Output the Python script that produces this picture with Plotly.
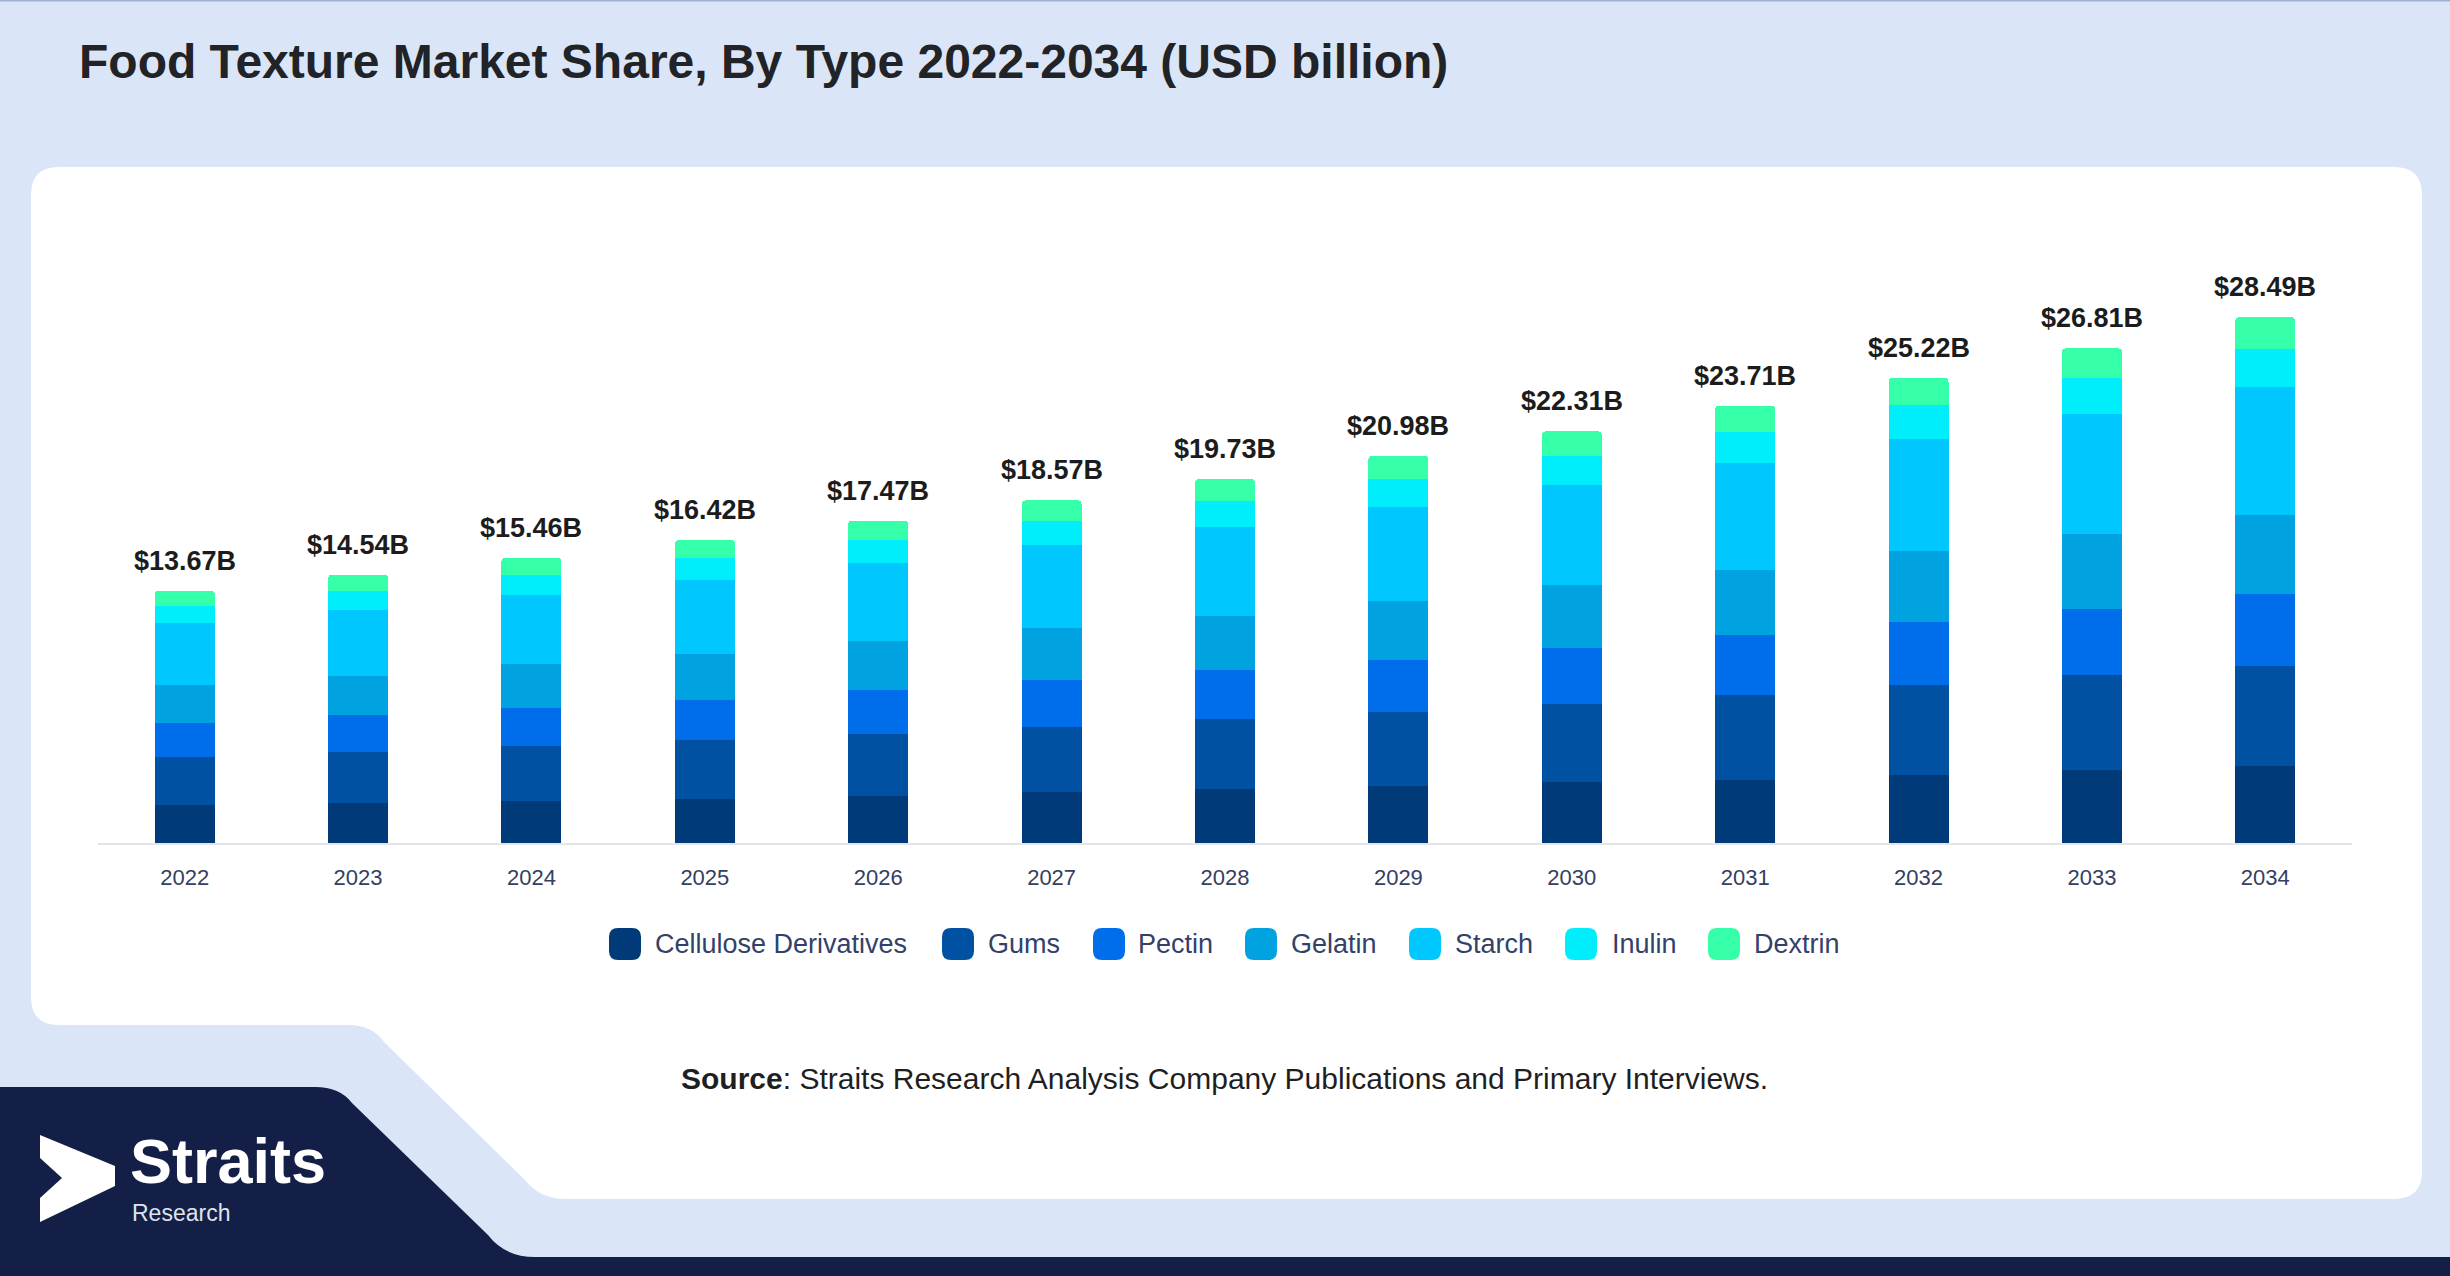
import plotly.graph_objects as go

years = ["2022", "2023", "2024", "2025", "2026", "2027", "2028",
         "2029", "2030", "2031", "2032", "2033", "2034"]
totals = [13.67, 14.54, 15.46, 16.42, 17.47, 18.57, 19.73,
          20.98, 22.31, 23.71, 25.22, 26.81, 28.49]

cellulose = [2.08, 2.17, 2.26, 2.40, 2.57, 2.75, 2.90, 3.07, 3.29, 3.44, 3.71, 3.94, 4.17]
gums = [2.57, 2.76, 2.98, 3.20, 3.35, 3.55, 3.80, 4.03, 4.27, 4.58, 4.84, 5.14, 5.45]
pectin = [1.87, 1.99, 2.08, 2.17, 2.37, 2.52, 2.68, 2.84, 3.02, 3.26, 3.41, 3.60, 3.85]
gelatin = [2.06, 2.11, 2.39, 2.50, 2.66, 2.83, 2.93, 3.17, 3.38, 3.53, 3.84, 4.06, 4.32]
starch = [3.34, 3.58, 3.73, 3.97, 4.20, 4.48, 4.83, 5.10, 5.44, 5.77, 6.12, 6.51, 6.92]
inulin = [0.94, 1.03, 1.08, 1.19, 1.27, 1.32, 1.38, 1.50, 1.59, 1.72, 1.81, 1.94, 2.09]
dextrin = [0.81, 0.90, 0.94, 0.99, 1.05, 1.12, 1.21, 1.27, 1.32, 1.41, 1.49, 1.62, 1.69]

series_names = ["Cellulose Derivatives", "Gums", "Pectin", "Gelatin", "Starch", "Inulin", "Dextrin"]
series_values = [cellulose, gums, pectin, gelatin, starch, inulin, dextrin]
colors = ["#013a78", "#0051a2", "#006deb", "#00a3e0", "#00c8ff", "#00eefc", "#36ffaa"]

FONT = "Liberation Sans, Arial, sans-serif"
W, H = 2450, 1276
PL, PR, PT, PB = 98, 2352, 271, 843   # plot area in pixels


def fx(px):
    return (px - PL) / (PR - PL)


def fy(py):
    return (PB - py) / (PB - PT)


def path(cmds):
    # cmds: list of (letter, x, y, ...) in pixels -> paper-coordinate path
    out = []
    for c in cmds:
        letter, pts = c[0], c[1:]
        coords = []
        for i in range(0, len(pts), 2):
            coords.append(f"{fx(pts[i]):.5f},{fy(pts[i + 1]):.5f}")
        out.append(letter + " ".join(coords))
    return " ".join(out) + " Z"


def rrect(x0, y0, x1, y1, r):
    return path([("M", x0 + r, y0), ("L", x1 - r, y0), ("Q", x1, y0, x1, y0 + r),
                 ("L", x1, y1 - r), ("Q", x1, y1, x1 - r, y1), ("L", x0 + r, y1),
                 ("Q", x0, y1, x0, y1 - r), ("L", x0, y0 + r), ("Q", x0, y0, x0 + r, y0)])


fig = go.Figure()
for name, vals, col in zip(series_names, series_values, colors):
    fig.add_trace(go.Bar(x=years, y=vals, name=name, marker_color=col,
                         marker_line_width=0, showlegend=False))

shapes = []
# white panel with the cut-out at the bottom left
r = 28
shapes.append(dict(type="path", xref="paper", yref="paper", layer="below",
                   fillcolor="white", line_width=0,
                   path=path([("M", 31 + r, 167), ("L", 2422 - r, 167), ("Q", 2422, 167, 2422, 167 + r),
                              ("L", 2422, 1199 - r), ("Q", 2422, 1199, 2422 - r, 1199),
                              ("L", 565, 1199), ("Q", 540, 1199, 525, 1180),
                              ("L", 385, 1043), ("Q", 372, 1025, 350, 1025),
                              ("L", 31 + r, 1025), ("Q", 31, 1025, 31, 1025 - r),
                              ("L", 31, 167 + r), ("Q", 31, 167, 31 + r, 167)])))
# navy footer shape
shapes.append(dict(type="path", xref="paper", yref="paper", layer="below",
                   fillcolor="#131f46", line_width=0,
                   path=path([("M", -2, 1087), ("L", 315, 1087), ("Q", 340, 1087, 352, 1103),
                              ("L", 488, 1235), ("Q", 505, 1257, 535, 1257),
                              ("L", 2452, 1257), ("L", 2452, 1278), ("L", -2, 1278)])))
# thin top border
shapes.append(dict(type="line", xref="paper", yref="paper", layer="below",
                   x0=fx(0), x1=fx(W), y0=fy(0.5), y1=fy(0.5),
                   line=dict(color="#9fb0cf", width=2)))
# logo arrow
shapes.append(dict(type="path", xref="paper", yref="paper", layer="above",
                   fillcolor="white", line_width=0,
                   path=path([("M", 40, 1135), ("L", 115, 1166), ("L", 115, 1186),
                              ("L", 40, 1222), ("L", 40, 1198), ("L", 62, 1178),
                              ("L", 40, 1158)])))

annotations = []
# total labels above each stacked bar (x given as category index)
for i, t in enumerate(totals):
    annotations.append(dict(x=i, y=t, xref="x", yref="y", text=f"<b>${t:.2f}B</b>",
                            showarrow=False, yanchor="bottom", yshift=13,
                            font=dict(family=FONT, size=27, color="#1c1c1c")))

# custom legend with rounded swatches
leg_sw = [625, 958, 1109, 1261, 1425, 1581, 1724]
leg_tx = [653, 986, 1136, 1289, 1453, 1610, 1752]
leg_y = 944
for name, col, sx, tx in zip(series_names, colors, leg_sw, leg_tx):
    shapes.append(dict(type="path", xref="paper", yref="paper", layer="above",
                       fillcolor=col, line_width=0,
                       path=rrect(sx - 16, leg_y - 16, sx + 16, leg_y + 16, 9)))
    annotations.append(dict(x=fx(tx), y=fy(leg_y), xref="paper", yref="paper",
                            text=name, showarrow=False, xanchor="left", yanchor="middle",
                            font=dict(family=FONT, size=27, color="#33416a")))

annotations.append(dict(x=fx(1224), y=fy(1078), xref="paper", yref="paper",
                        text="<b>Source</b>: Straits Research Analysis Company Publications and Primary Interviews.",
                        showarrow=False, xanchor="center", yanchor="middle",
                        font=dict(family=FONT, size=30, color="#1f1f1f")))
annotations.append(dict(x=fx(128), y=fy(1161), xref="paper", yref="paper",
                        text="<b>Straits</b>", showarrow=False, xanchor="left", yanchor="middle",
                        font=dict(family=FONT, size=63, color="white")))
annotations.append(dict(x=fx(130), y=fy(1213), xref="paper", yref="paper",
                        text="Research", showarrow=False, xanchor="left", yanchor="middle",
                        font=dict(family=FONT, size=23, color="#dfe3ec")))

fig.update_layout(
    width=W, height=H,
    margin=dict(l=PL, r=W - PR, t=PT, b=H - PB, pad=0),
    barmode="stack", bargap=0.654, barcornerradius=4,
    paper_bgcolor="#dae6f8", plot_bgcolor="rgba(0,0,0,0)",
    title=dict(text="<b>Food Texture Market Share, By Type 2022-2034 (USD billion)</b>",
               xref="container", yref="container", x=79 / W, y=1 - 61 / H,
               xanchor="left", yanchor="middle",
               font=dict(family=FONT, size=48, color="#212326")),
    xaxis=dict(type="category", range=[-0.5, len(years) - 0.5], autorange=False,
               showline=True, linecolor="#e2e5ea", linewidth=2,
               showgrid=False, ticks="", ticklabelstandoff=14,
               tickfont=dict(family=FONT, size=22, color="#34405f")),
    yaxis=dict(range=[0, 31], autorange=False, visible=False, showgrid=False, zeroline=False),
    shapes=shapes, annotations=annotations,
    showlegend=False,
)

fig.write_html("out.html", config={"displayModeBar": False},
               post_script="document.body.style.margin='0';")
